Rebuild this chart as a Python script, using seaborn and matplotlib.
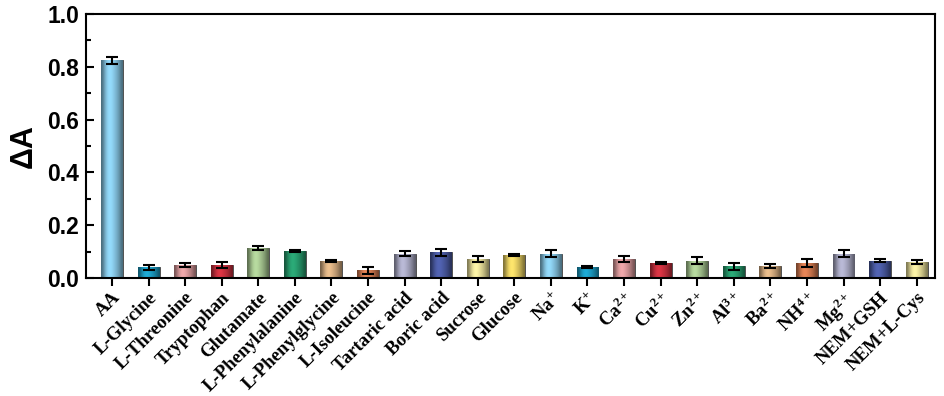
import numpy as np
import pandas as pd
import seaborn as sns
import matplotlib.pyplot as plt
from matplotlib.colors import to_rgb

labels = ['AA', 'L-Glycine', 'L-Threonine', 'Tryptophan', 'Glutamate', 'L-Phenylalanine',
          'L-Phenylglycine', 'L-Isoleucine', 'Tartaric acid', 'Boric acid', 'Sucrose', 'Glucose',
          'Na$^{+}$', 'K$^{+}$', 'Ca$^{2+}$', 'Cu$^{2+}$', 'Zn$^{2+}$', 'Al$^{3+}$', 'Ba$^{2+}$',
          'NH$^{4+}$', 'Mg$^{2+}$', 'NEM+GSH', 'NEM+L-Cys']
values = [0.824, 0.040, 0.049, 0.049, 0.114, 0.103, 0.066, 0.029, 0.092, 0.097, 0.072, 0.087,
          0.092, 0.040, 0.073, 0.057, 0.066, 0.044, 0.044, 0.058, 0.092, 0.066, 0.061]
errors = [0.014, 0.008, 0.009, 0.012, 0.008, 0.003, 0.004, 0.012, 0.009, 0.013, 0.011, 0.005,
          0.013, 0.004, 0.011, 0.003, 0.014, 0.013, 0.008, 0.015, 0.013, 0.005, 0.009]
colors12 = ['#86c6e4', '#1b9bc2', '#d8989a', '#c8303e', '#a6c690', '#279a6c',
            '#d6ad80', '#d2794f', '#a8a8c2', '#4a5aa2', '#e6dd98', '#e8d062']
colors = [colors12[i % 12] for i in range(len(labels))]

df = pd.DataFrame({'name': labels, 'dA': values, 'err': errors})

plt.rcParams['mathtext.fontset'] = 'custom'
plt.rcParams['mathtext.rm'] = 'Liberation Serif:bold'
plt.rcParams['mathtext.bf'] = 'Liberation Serif:bold'
plt.rcParams['mathtext.it'] = 'Liberation Serif:bold'

fig = plt.figure(figsize=(9.45, 3.96), dpi=100)
ax = fig.add_axes([0.091, 0.298, 0.898, 0.667])
sns.barplot(data=df, x='name', y='dA', hue='name', palette=colors, legend=False,
            width=0.6, errorbar=None, ax=ax, edgecolor='none')

# cylinder-like shading on each bar
shade = np.array([0.55, 0.75, 0.95, 1.08, 1.12, 1.08, 1.0, 0.92, 0.82, 0.7, 0.55])
for p, c in zip(ax.patches, colors):
    x0, y0 = p.get_x(), p.get_y()
    w, h = p.get_width(), p.get_height()
    rgb = np.array(to_rgb(c))
    grad = np.clip(shade[:, None] * rgb[None, :], 0, 1)[None, :, :]
    im = ax.imshow(grad, extent=[x0, x0 + w, y0, y0 + h], aspect='auto',
                   interpolation='bicubic', zorder=p.get_zorder())
    im.set_clip_path(p)
    p.set_facecolor('none')
    p.set_edgecolor('#333333')
    p.set_linewidth(0.6)

ax.errorbar(x=np.arange(len(labels)), y=df['dA'], yerr=df['err'], fmt='none',
            ecolor='black', elinewidth=1.5, capsize=4, capthick=1.5, zorder=5)

ax.set_xlim(-0.71, 22.49)
ax.set_ylim(0, 1.0)
ax.set_yticks([0, 0.2, 0.4, 0.6, 0.8, 1.0])
ax.set_yticks(np.arange(0.1, 1.0, 0.2), minor=True)
ax.set_yticklabels(['0.0', '0.2', '0.4', '0.6', '0.8', '1.0'],
                   fontfamily='Liberation Sans', fontweight='bold', fontsize=16.5)
ax.tick_params(axis='y', which='major', direction='in', length=6, width=1.5, pad=5)
ax.tick_params(axis='y', which='minor', direction='in', length=3.5, width=1.5)
ax.tick_params(axis='x', direction='out', length=6, width=1.5, pad=2)
ax.set_xticks(np.arange(len(labels)))
ax.set_xticklabels(labels, rotation=45, ha='right', rotation_mode='anchor',
                   fontfamily='Liberation Serif', fontweight='bold', fontsize=13.5)
ax.set_xlabel('')
ax.set_ylabel('ΔA', fontfamily='Liberation Sans', fontweight='bold', fontsize=22, labelpad=6)
for s in ax.spines.values():
    s.set_linewidth(1.5)
    s.set_color('black')

fig.savefig('out.png', dpi=100)
